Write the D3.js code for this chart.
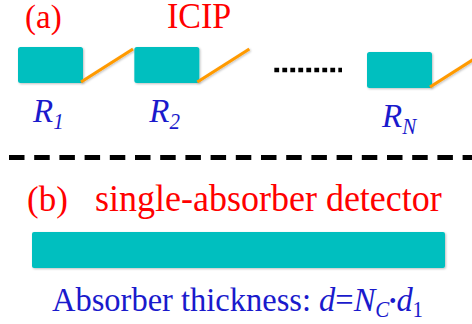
<!DOCTYPE html>
<html>
<head>
<meta charset="utf-8">
<script src="https://cdn.jsdelivr.net/npm/d3@7"></script>
<style>
  html, body { margin: 0; padding: 0; background: #fff; }
  svg { display: block; }
</style>
</head>
<body>
<div id="chart"></div>
<script>
// Stages of the ICIP chain (subscript of each R) and their slot along the chain
var stages = ["1", "2", "N"];
var stageSlot = [0, 1, 3];
var stageDrop = [0, 0, 5]; // stage N sits a little lower in the sketch

var titleA = "(a)";
var titleICIP = "ICIP";
var titleB = "(b)";
var titleDetector = "single-absorber detector";
var thicknessLabel = "Absorber thickness: ";

var width = 472, height = 324;
var serif = "'Times New Roman', 'Liberation Serif', serif";
var teal = "#00bfbf", orange = "#ff9a00", red = "#ff0000", blue = "#1a1acc";
var stretch = 1.05; // text in the source is slightly taller than wide

var svg = d3.select("#chart").append("svg")
  .attr("width", width)
  .attr("height", height);

var defs = svg.append("defs");
var shadow = defs.append("filter").attr("id", "shadow")
  .attr("x", "-20%").attr("y", "-20%").attr("width", "150%").attr("height", "150%");
shadow.append("feDropShadow")
  .attr("dx", 1).attr("dy", 1).attr("stdDeviation", 0.8)
  .attr("flood-color", "#000").attr("flood-opacity", 0.25);

// Scales for the chain
var x = d3.scaleLinear().domain([0, 3]).range([18, 367]);
var boxW = 65, boxH = 36, chainTop = 47;

function label(g, tx, ty, size) {
  return g.append("text")
    .attr("transform", "translate(" + tx + "," + ty + ") scale(1," + stretch + ")")
    .style("font-family", serif)
    .style("font-size", size + "px");
}

// (a) ICIP
label(svg, 25, 28, 33).style("fill", red).text(titleA);
label(svg, 167, 28, 34).style("fill", red).text(titleICIP);

var stage = svg.selectAll("g.stage")
  .data(stages)
  .enter().append("g")
  .attr("class", "stage")
  .attr("transform", function (d, i) {
    return "translate(" + x(stageSlot[i]) + "," + (chainTop + stageDrop[i]) + ")";
  });

stage.append("rect")
  .attr("width", boxW)
  .attr("height", boxH)
  .attr("rx", 2.5)
  .style("fill", teal)
  .attr("filter", "url(#shadow)");

stage.append("line")
  .attr("x1", boxW - 2).attr("y1", boxH - 1)
  .attr("x2", boxW + 50).attr("y2", 2)
  .style("stroke", orange)
  .style("stroke-width", 3.2)
  .attr("filter", "url(#shadow)");

stage.each(function (d) {
  var t = label(d3.select(this), 15, 75, 33).style("fill", blue);
  t.append("tspan").style("font-style", "italic").text("R");
  t.append("tspan")
    .style("font-style", "italic")
    .style("font-size", "21px")
    .attr("dy", 7)
    .text(d);
});

// dotted link between stage 2 and stage N
var dotY = chainTop + 23;
svg.append("line")
  .attr("x1", x(stageSlot[1]) + boxW + 75)
  .attr("x2", x(stageSlot[2]) - 25)
  .attr("y1", dotY).attr("y2", dotY)
  .style("stroke", "#000")
  .style("stroke-width", 4.5)
  .style("stroke-dasharray", "4.8,3.2");

// dashed separator
svg.append("line")
  .attr("x1", 9).attr("x2", width)
  .attr("y1", 157.5).attr("y2", 157.5)
  .style("stroke", "#000")
  .style("stroke-width", 5)
  .style("stroke-dasharray", "15.5,9.7");

// (b) single-absorber detector
label(svg, 27, 211, 35).style("fill", red).text(titleB);
label(svg, 95, 211, 36).style("fill", red).text(titleDetector);

svg.append("rect")
  .attr("x", 32).attr("y", 232)
  .attr("width", 413).attr("height", 36)
  .attr("rx", 2)
  .style("fill", teal)
  .attr("filter", "url(#shadow)");

var thick = label(svg, 52, 311, 32.5).style("fill", blue);
thick.append("tspan").text(thicknessLabel);
thick.append("tspan").style("font-style", "italic").text("d");
thick.append("tspan").text("=");
thick.append("tspan").style("font-style", "italic").text("N");
thick.append("tspan").style("font-style", "italic").style("font-size", "21px").attr("dy", 6).text("C");
thick.append("tspan").style("font-size", "20px").attr("dy", -9).text("\u2022");
thick.append("tspan").style("font-style", "italic").attr("dy", 3).text("d");
thick.append("tspan").style("font-size", "21px").attr("dy", 6).text("1");
</script>
</body>
</html>
